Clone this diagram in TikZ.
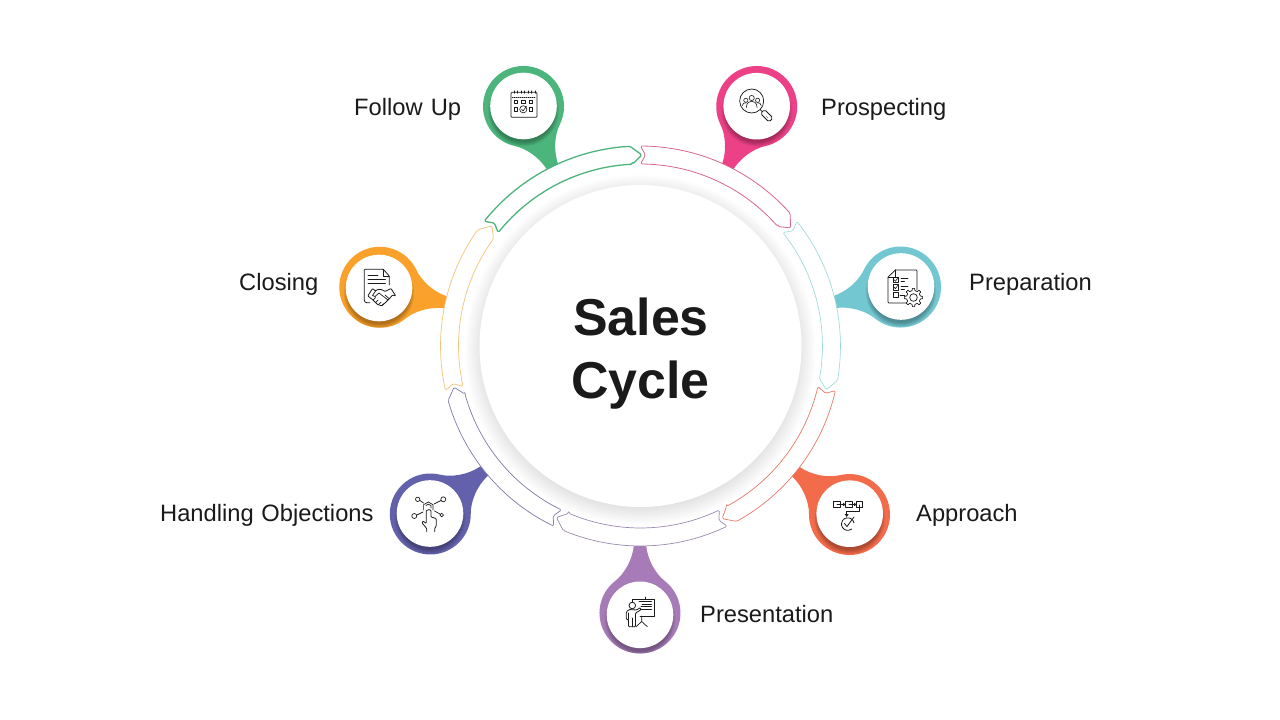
\documentclass[tikz,border=0pt]{standalone}
\usepackage{fontspec}
\setmainfont{Liberation Sans}
\definecolor{ink}{HTML}{1A1A1A}
\definecolor{cgreen}{HTML}{4CB57B}
\definecolor{cpink}{HTML}{EC4187}
\definecolor{cteal}{HTML}{72C7D1}
\definecolor{ccoral}{HTML}{F26B4A}
\definecolor{cpurple}{HTML}{A67BB8}
\definecolor{cindigo}{HTML}{6461AC}
\definecolor{corange}{HTML}{F9A12A}
\definecolor{lgreen}{HTML}{4CB57B}
\definecolor{lpink}{HTML}{D9668E}
\definecolor{lteal}{HTML}{9AD5D5}
\definecolor{lcoral}{HTML}{E9786A}
\definecolor{lpurple}{HTML}{9B8AB0}
\definecolor{lindigo}{HTML}{7F7BA8}
\definecolor{lorange}{HTML}{F3C27A}
\tikzset{
  label text/.style={font=\fontsize{23.7}{26}\selectfont,text=ink,anchor=base west,inner sep=0pt},
  title text/.style={font=\fontsize{51.9}{54}\selectfont\bfseries,text=ink,anchor=base,inner sep=0pt},
  icon/.style={draw=ink,line width=0.75pt,line join=round,line cap=round},
  bandseg/.style={fill=white,rounded corners=1.5pt,line join=round}
}
% #1 cx, #2 cy, #3 rotation to ring, #4 colour, #5 white cx offset, #6 white cy offset
\newcommand{\pinshape}[6]{%
  \begin{scope}[shift={(#1,#2)},rotate=#3,y=1pt]
    \def\pinpath{(69,-6) .. controls (54,-7) and (39.3,-15.4) .. (31.9,-24.9)
      arc[start angle=-38,end angle=-322,radius=40.5]
      .. controls (39.3,15.4) and (54,7) .. (69,6) -- cycle}
    \fill[#4] \pinpath;
    \clip \pinpath;
    \begin{scope}[rotate=-#3]
      \foreach \k in {1,...,10}{\fill[black,opacity=0.03] (#5,{-#6-5}) circle[radius={30.5+0.5*\k}];}
      \fill[white] (#5,-#6) circle[radius=33.3];
    \end{scope}
  \end{scope}}
% #1 start angle (screen, clockwise), #2 colour, #3 width
\newcommand{\bandarrow}[3]{%
  \pgfmathsetmacro{\aa}{#1}\pgfmathsetmacro{\bb}{#1+51.43}
  \pgfmathsetmacro{\bs}{\bb-3}\pgfmathsetmacro{\bi}{\bb-2.5}
  \draw[bandseg,draw=#2,line width=#3]
    plot[domain=\aa:\bs,samples=24] ({640.5+200*cos(\x)},{346+200*sin(\x)})
    -- ({640.5+191*cos(\bb+0.4)},{346+191*sin(\bb+0.4)})
    -- ({640.5+182*cos(\bi)},{346+182*sin(\bi)})
    -- plot[domain=\bi:\aa,samples=24] ({640.5+182*cos(\x)},{346+182*sin(\x)})
    -- ({640.5+191*cos(\aa+1.5)},{346+191*sin(\aa+1.5)}) -- cycle;}
\begin{document}
\begin{tikzpicture}[x=1pt,y=-1pt]
\useasboundingbox (0,0) rectangle (1280,720);
\fill[white] (0,0) rectangle (1280,720);
% hub shadow
\foreach \k in {1,...,14}{\fill[black,opacity=0.009] (640.5,350) circle[radius={157+1.3*\k}];}
% pins
\pinshape{756.7}{106.5}{244.3}{cpink}{0}{-0.3}
\pinshape{900.5}{287}{192.86}{cteal}{0.5}{-0.5}
\pinshape{849.5}{514.5}{141.43}{ccoral}{0.2}{-0.8}
\pinshape{640}{613}{90}{cpurple}{0}{1.8}
\pinshape{430.3}{514}{38.57}{cindigo}{-0.3}{-0.5}
\pinshape{379.8}{287.3}{347.14}{corange}{-0.8}{0.7}
\pinshape{523.5}{106.5}{295.7}{cgreen}{0}{-0.5}
% ring
\bandarrow{-90}{lpink}{0.8pt}
\bandarrow{-38.57}{lteal}{0.6pt}
\bandarrow{12.86}{lcoral}{0.7pt}
\bandarrow{64.29}{lpurple}{0.7pt}
\bandarrow{115.71}{lindigo}{0.7pt}
\bandarrow{167.14}{lorange}{0.7pt}
\bandarrow{218.57}{lgreen}{1.3pt}
% hub
\fill[white] (640.5,346) circle[radius=161];
\node[title text] (t1) at (641,335) {Sales};
\node[title text] (t2) at (640.5,398.5) {Cycle};
% labels
\node[label text] (lFollow) at (354,115.3) {Follow\hspace{1.6pt} Up};
\node[label text] (lProsp) at (821,115.3) {Prospecting};
\node[label text] (lPrep) at (969,290.5) {Preparation};
\node[label text] (lAppr) at (916,521.3) {Approach};
\node[label text] (lPres) at (700,622.3) {Presentation};
\node[label text] (lHand) at (160,521.3) {Handling\hspace{1.2pt} Objections};
\node[label text] (lClos) at (239,290.5) {Closing};
% calendar
\begin{scope}[yshift=0.7pt]
\draw[icon,rounded corners=1pt] (511,93) rectangle (537,118);
\draw[icon,line width=0.5pt,dash pattern=on 1pt off 1pt] (512,97.5) -- (536,97.5);
\foreach \x in {514,517.5,521,524.5,528,531.5,535}{\draw[icon,line width=0.6pt] (\x,91.5) -- (\x,94);}
\foreach \x in {516,523.3,530.7}{\draw[icon,line width=0.6pt] (\x-1.7,101) rectangle (\x+1.7,104.4);}
\foreach \x in {516,530.7}{\draw[icon,line width=0.6pt] (\x-1.7,108.3) rectangle (\x+1.7,111.7);}
\draw[icon,line width=0.6pt] (523.3,110) circle[radius=3.6];
\draw[icon,line width=0.6pt] (521.5,110) -- (523,111.7) -- (526.5,107);
\end{scope}
% magnifier
\draw[icon] (751.7,101) circle[radius=12];
\draw[icon] (760.2,109.5) -- (762,111.3);
\draw[icon,rounded corners=1.8pt] (760.5,113.5) -- (764.5,109.5) -- (773,118) -- (769,122) -- cycle;
\draw[icon,line width=0.3pt] (766,116) -- (768,118);
\draw[icon,line width=0.6pt] (751.7,98) circle[radius=2.6] (745.8,100.3) circle[radius=2.1] (757.6,100.3) circle[radius=2.1];
\draw[icon,line width=0.6pt] (746.3,107.5) .. controls (746.5,102.5) and (749.7,101.2) .. (751.7,101.2) .. controls (753.7,101.2) and (756.9,102.5) .. (757.1,107.5);
\draw[icon,line width=0.6pt] (742.3,105.5) .. controls (742.3,103.5) and (744,102.6) .. (746.5,102.7);
\draw[icon,line width=0.6pt] (761.1,105.5) .. controls (761.1,103.5) and (759.4,102.6) .. (756.9,102.7);
% checklist
\draw[icon,rounded corners=0.8pt] (895.5,270) -- (917,270) -- (917,290);
\draw[icon,rounded corners=0.8pt] (895.5,270) -- (888,277) -- (888,303) -- (906,303);
\draw[icon] (888,277) -- (895.5,277) -- (895.5,270);
\foreach \y in {280,287.4,295.2}{\draw[icon,fill=white,line width=0.7pt] (893,\y-2.6) rectangle (898.4,\y+2.6);}
\draw[icon,line width=0.6pt] (894,279.7) -- (895.5,281.2) -- (898.4,277);
\draw[icon,line width=0.6pt] (894,287.1) -- (895.5,288.6) -- (898.4,284.4);
\draw[icon,line width=0.7pt] (901,278.5) -- (908,278.5) (901,281.5) -- (904.5,281.5) (901,286.5) -- (908,286.5) (901,289.5) -- (904.5,289.5) (900,295) -- (905,295);
\begin{scope}[shift={(913.5,297.5)}]
\draw[icon,fill=white,line width=0.7pt,rounded corners=0.5pt] (-11:7) \foreach \k in {0,...,7}{ -- ({45*\k-11}:7) -- ({45*\k-8}:9.2) -- ({45*\k+8}:9.2) -- ({45*\k+11}:7)} -- cycle;
\draw[icon,line width=0.7pt] (0,0) circle[radius=3.8];
\end{scope}
% flow
\draw[icon,line width=0.7pt] (833.3,501.7) rectangle (840,507.3);
\draw[icon,line width=0.7pt] (845.7,501.7) rectangle (852.3,507.3);
\draw[icon,line width=0.7pt] (856.7,501.7) rectangle (862.3,507.3);
\draw[icon,line width=0.8pt] (837,504.5) -- (844.5,504.5) (849,504.5) -- (855.5,504.5);
\fill[ink] (845.7,504.5) -- (843,502.7) -- (843,506.3) -- cycle;
\fill[ink] (856.7,504.5) -- (854,502.7) -- (854,506.3) -- cycle;
\draw[icon,line width=0.7pt] (859.5,505) -- (859.5,511.7) -- (846.7,511.7) -- (846.7,515);
\fill[ink] (846.7,517) -- (844.7,514) -- (848.7,514) -- cycle;
\draw[icon,line width=0.8pt] (854,523) arc[start angle=-10,end angle=-310,radius=6.3];
\draw[icon,line width=0.8pt] (844.5,523.5) -- (847,526.5) -- (854,517);
% presentation
\draw[icon,line width=0.7pt] (632,603) -- (632,599.3) -- (654,599.3) -- (654,616) -- (640,616);
\draw[icon,line width=0.7pt] (645,599.3) -- (645,597);
\draw[icon,line width=0.8pt] (639,601.8) -- (651.5,601.8) (642,604.2) -- (651.5,604.2) (641,606.7) -- (651.5,606.7) (641,609.3) -- (651.5,609.3);
\draw[icon,line width=0.7pt] (641.7,616) -- (641.7,621.5) (636,626.7) -- (641.7,621.5) -- (647.3,626.7);
\draw[icon,line width=0.8pt,fill=white] (632.3,605.5) circle[radius=3.3];
\draw[icon,line width=0.8pt,rounded corners=1pt,fill=white] (640.5,607.5) -- (636.5,610) -- (629,609.5) -- (626.3,612) -- (626.3,619.5) -- (628.5,619.5) -- (628.5,626.7) -- (635.5,626.7) -- (635.5,613) -- (641,609.8) -- cycle;
\draw[icon,line width=0.6pt] (632,618) -- (632,626.7) (628.5,613) -- (628.5,619.5);
% network
\draw[icon,line width=0.7pt] (428.3,502) -- (433,504.7) -- (433,510) (423.6,510) -- (423.6,504.7) -- (428.3,502);
\draw[icon,line width=0.7pt] (426,505.5) -- (428.3,504.2) -- (431,505.5) -- (431,508);
\draw[icon,line width=0.7pt] (417.7,499.3) circle[radius=2.2] (443.3,499.3) circle[radius=2.5] (414.3,516) circle[radius=2.5] (441.7,515) circle[radius=1.8];
\draw[icon,line width=0.7pt] (420,500.5) -- (423.5,503) (434,504) -- (441,500.5) (417,515) -- (423,512) (434.5,511) -- (440,514);
\draw[icon,line width=0.8pt,rounded corners=0.8pt] (426.7,531.7) -- (426.7,528.5) -- (422,522.8) -- (423,521) -- (426.2,523.5) -- (426.2,510.5) -- (429.5,509.5) -- (431,510.5) -- (431,517) -- (436.2,518.5) -- (436.2,526) -- (434.7,528.5) -- (434.7,531.7);
% contract & handshake
\draw[icon,line width=0.8pt,rounded corners=0.8pt] (370,302.7) -- (366,302.7) -- (364.3,301) -- (364.3,269.3) -- (383.3,269.3) -- (389.3,276) -- (389.3,285);
\draw[icon,line width=0.7pt] (383.3,269.3) -- (383.3,276) -- (389.3,276);
\draw[icon,line width=0.8pt] (368,275.5) -- (378,275.5) (368,279.5) -- (385.5,279.5) (368,283) -- (385.5,283);
\draw[icon,fill=white,line width=0.8pt,rounded corners=0.8pt] (372.5,288.5) -- (367.8,296) -- (373,300) -- (377.5,304.5) -- (381.5,305.8) -- (385,303) -- (390,298) -- (392.5,295) -- (395.8,296) -- (391,288.5) -- (385,291.5) -- (381.5,289.5) -- (377.5,289.5) -- (375.5,291) -- cycle;
\draw[icon,line width=0.7pt] (375.5,291) -- (372.5,295.5) -- (375,296.5) -- (379,293) -- (388,300);
\draw[icon,line width=0.7pt] (373,300) -- (375.5,297.5) (375.5,302.5) -- (378,300) (378.5,304.5) -- (381,302) (382,305.5) -- (384,303.5) (385,295) -- (389,298.5);
\end{tikzpicture}
\end{document}
